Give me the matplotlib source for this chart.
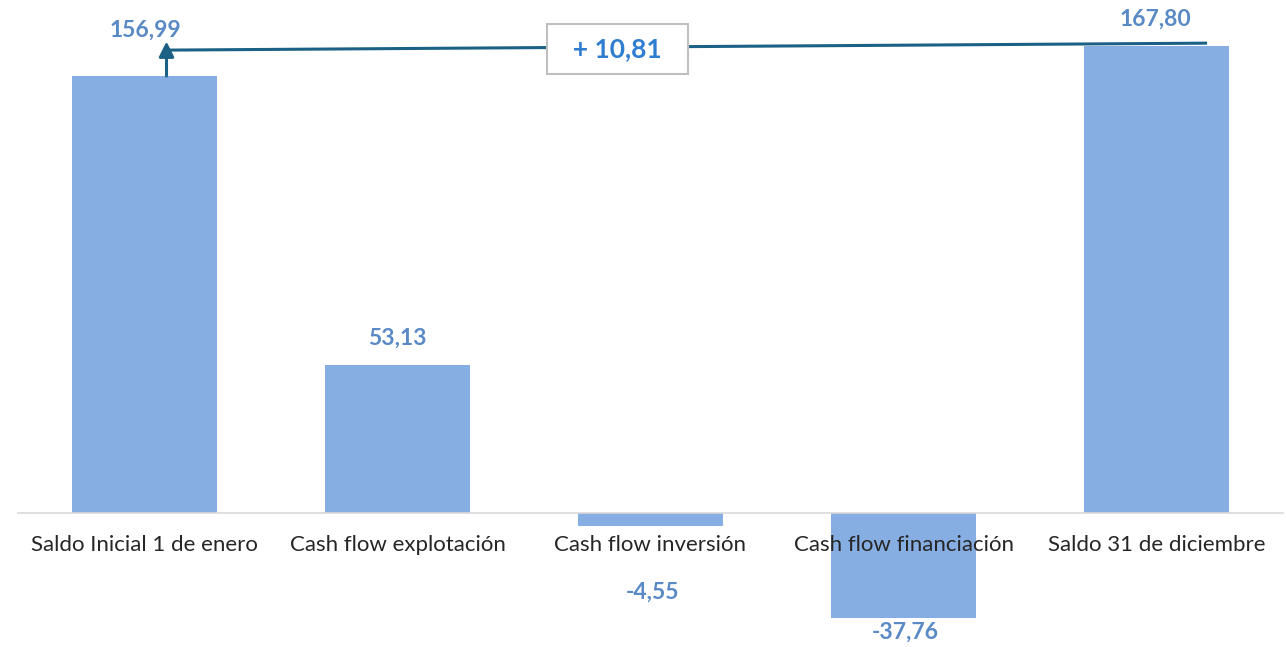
import matplotlib.pyplot as plt

# data
categories = ["Saldo Inicial 1 de enero", "Cash flow explotación",
              "Cash flow inversión", "Cash flow financiación",
              "Saldo 31 de diciembre"]
values = [156.99, 53.13, -4.55, -37.76, 167.80]
value_labels = ["156,99", "53,13", "-4,55", "-37,76", "167,80"]
diff_label = "+ 10,81"

# style
BAR_COLOR = "#86AEE3"
LABEL_COLOR = "#5A8AC6"
LINE_COLOR = "#1B6186"
BOX_TEXT = "#2F7DD0"
FONT = ["Lato", "DejaVu Sans"]
# label offsets in pixels (x, y) from bar end
label_offsets = [(1, 46), (0, 27), (2, -66), (2, -14), (-1, 27)]

plt.rcParams["font.family"] = FONT

fig = plt.figure(figsize=(12.86, 6.47), dpi=100)
ax = fig.add_axes([18 / 1286, 0, 1265 / 1286, 1])
x = list(range(len(values)))
ax.bar(x, values, width=0.57, color=BAR_COLOR, zorder=1)

ax.set_xlim(-0.5, 4.5)
ax.set_ylim(-48.1, 184.3)
for s in ["top", "right", "left"]:
    ax.spines[s].set_visible(False)
ax.spines["bottom"].set_position(("data", 0))
ax.spines["bottom"].set_color("#D9D9D9")
ax.spines["bottom"].set_linewidth(1.2)
ax.set_yticks([])
ax.set_xticks(x)
ax.set_xticklabels(categories, fontsize=16, color="#262626")
ax.tick_params(axis="x", length=0, pad=16)

for xi, v, lbl, (dx, dy) in zip(x, values, value_labels, label_offsets):
    ax.annotate(lbl, (xi, v), xytext=(dx, dy), textcoords="offset pixels",
                ha="center", va="center", fontsize=16.5, fontweight="bold",
                color=LABEL_COLOR)

# connector line between start and end balance
x0, x1 = 0.087, 4.2
y0, y1 = 166.3, 168.8
ax.plot([x0, x1], [y0, y1], color=LINE_COLOR, lw=2.2, zorder=3,
        solid_capstyle="butt")
ax.annotate("", xy=(x0, 169.4), xytext=(x0, values[0]),
            arrowprops=dict(arrowstyle="-|>,head_length=0.9,head_width=0.45",
                            color=LINE_COLOR, lw=2.2, shrinkA=0, shrinkB=0),
            zorder=4)

ax.text(1.87, 166.8, "  " + diff_label + "  ", ha="center", va="center",
        fontsize=19, fontweight="bold", color=BOX_TEXT, zorder=5,
        bbox=dict(boxstyle="square,pad=0.5", fc="white", ec="#BFBFBF", lw=1.5))

fig.savefig("out.png", dpi=100)
